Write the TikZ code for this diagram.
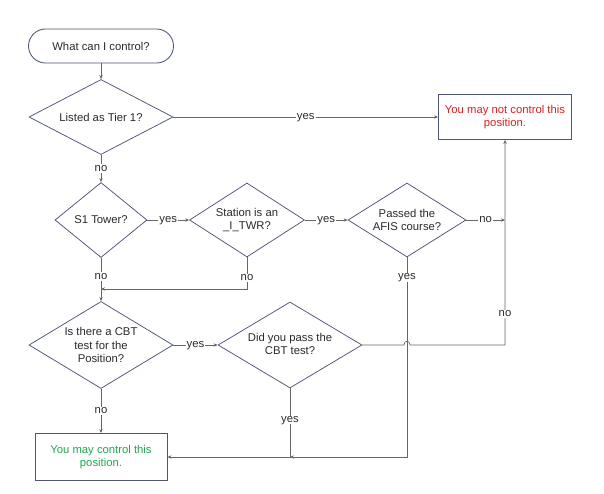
\documentclass[tikz,border=0pt]{standalone}
\usepackage{fontspec}
\setmainfont{Liberation Sans}
\usetikzlibrary{shapes.geometric,arrows.meta}
\definecolor{shp}{HTML}{4F5578}
\definecolor{ln}{HTML}{666666}
\definecolor{txt}{HTML}{2A2A2A}
\definecolor{redt}{HTML}{E01E1E}
\definecolor{greent}{HTML}{1FA84F}
\begin{document}
\begin{tikzpicture}[x=1pt,y=-1pt,
 dia/.style={draw=shp, line width=0.75pt, shape=diamond, inner sep=0pt},
 box/.style={draw=shp, line width=0.85pt, rectangle, inner sep=0pt},
 txtn/.style={font=\fontsize{11.3}{13.8}\selectfont, text=txt, align=center, inner sep=0pt},
 conn/.style={draw=ln, line width=0.75pt, -{Stealth[length=4pt,width=3.4pt]}},
 lbl/.style={font=\fontsize{11.3}{13}\selectfont, text=txt, fill=white, inner sep=1pt, text height=1.1ex, text depth=0.1ex}]
\useasboundingbox[fill=white] (0,0) rectangle (604,494);

% shapes
\node[box, rounded corners=17pt, minimum width=145pt, minimum height=34pt, txtn] (start) at (101,46) {What can I control?};

\node[dia, minimum width=144pt, minimum height=75pt] (tier) at (101,117) {};
\node[txtn] (tiert) at (tier) {Listed as Tier 1?};

\node[box, minimum width=133pt, minimum height=45pt, txtn, text=redt] (nopos) at (505,117) {You may not control this\\position.};

\node[dia, minimum width=92pt, minimum height=75pt] (s1) at (101,220) {};
\node[txtn] (s1t) at (s1) {S1 Tower?};

\node[dia, minimum width=115pt, minimum height=74pt] (station) at (247,220) {};
\node[txtn] (stationt) at (station) {Station is an\\\_I\_TWR?};

\node[dia, minimum width=118pt, minimum height=74pt] (afis) at (407,220) {};
\node[txtn] (afist) at (afis) {Passed the\\AFIS course?};

\node[dia, minimum width=144pt, minimum height=87pt] (cbt) at (101,345) {};
\node[txtn] (cbtt) at (cbt) {Is there a CBT\\test for the\\Position?};

\node[dia, minimum width=144pt, minimum height=86pt] (pass) at (290,345) {};
\node[txtn] (passt) at ([yshift=1pt]pass) {Did you pass the\\CBT test?};

\node[box, minimum width=132pt, minimum height=47pt, txtn, text=greent] (green) at (101,457) {You may control this\\position.};

\coordinate (j) at (nopos.south |- pass.east);
\coordinate (k) at (101,289);
\coordinate (m) at (pass.south |- green.east);

% connectors
\draw[conn] (start) -- (tier);
\draw[conn] (tier.east) -- node[lbl] {yes} (nopos.west);
\draw[conn] (tier.south) -- node[lbl] {no} (s1.north);
\draw[conn] (s1.east) -- node[lbl] {yes} (station.west);
\draw[conn] (station.east) -- node[lbl] {yes} (afis.west);
\draw[conn] (afis.east) -- node[lbl] {no} (afis.east -| j);
\draw[conn] (s1.south) -- node[lbl, pos=.43] {no} (cbt.north);
\draw[conn] (station.south) |- node[lbl, pos=.33] {no} (k);
\draw[conn] (afis.south) |- node[lbl, pos=.05] {yes} (m);
\draw[conn] (cbt.east) -- node[lbl] {yes} (pass.west);
\draw[conn] (cbt.south) -- node[lbl] {no} (green.north);
\draw[conn] (pass.south) -- node[lbl, pos=.46] {yes} (m) -- (green.east);
\draw[conn] (pass.east) -- ([xshift=-3pt]afis.south |- pass.east)
   .. controls +(0,-5) and +(0,-5) .. ++(6,0) -- (j)
   -- node[lbl, pos=.15] {no} (nopos.south);
\end{tikzpicture}
\end{document}
